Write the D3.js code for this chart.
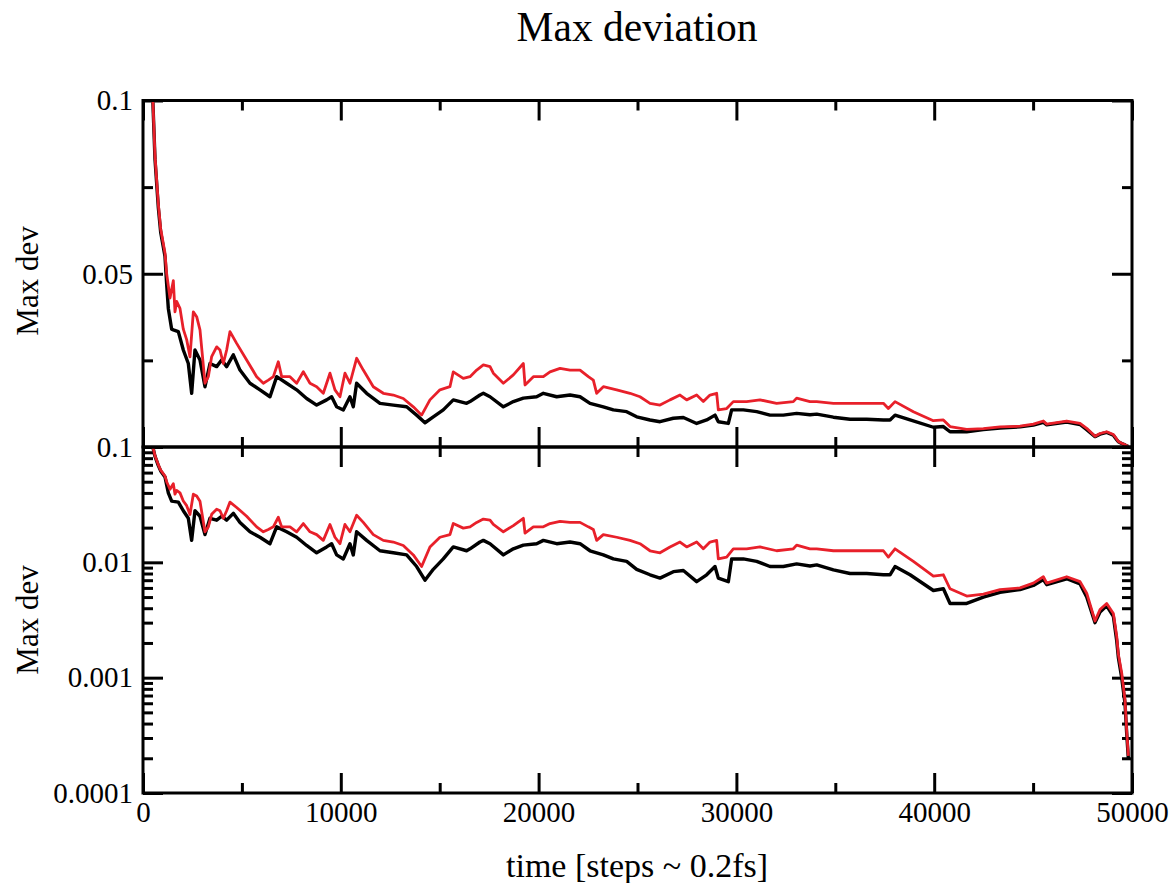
<!doctype html>
<html lang="en">
<head>
<meta charset="utf-8">
<title>Max deviation</title>
<style>
    body {
        margin: 0px;
        background: #fff;
    }

    text {
        font-family: "Liberation Serif", "Times New Roman", serif;
        fill: #000;
    }

    .tick text {
        font-size: 29px;
    }

    .tick line {
        stroke: #000;
        stroke-width: 3;
    }

    .frame {
        fill: none;
        stroke: #000;
        stroke-width: 3;
    }

    .series {
        fill: none;
        stroke-linejoin: round;
    }
</style>
</head>
<body>
<script src="https://d3js.org/d3.v7.min.js"></script>
<script>
    // time step of each sample, and max deviation
    const blackSteps = [500, 607, 776, 893, 1112, 1196, 1280, 1449, 1533, 1786, 2038, 2291, 2460, 2628, 2881, 3134, 3387, 3724, 3976, 4229,
        4566, 4903, 5409, 5914, 6420, 6757, 7262, 7768, 8273, 8779, 9284, 9537, 9789, 10126, 10463, 10631, 10800, 11306, 11980, 12654,
        13328, 13834, 14255, 14676, 15181, 15687, 16361, 16533, 17035, 17207, 17544, 18218, 18723, 19229, 19903, 20240, 20914, 21588, 22094, 22599,
        23273, 23779, 24453, 24958, 25632, 26138, 26812, 27318, 27991, 28497, 28918, 29086, 29592, 29760, 30350, 31024, 31698, 32372, 33046, 33720,
        34060, 34903, 35745, 36588, 37430, 37767, 38020, 38779, 39958, 40464, 40800, 41643, 42486, 43328, 44340, 45013, 45519, 45688, 46699, 47373,
        47710, 48131, 48384, 48721, 49058, 49226, 49310, 49479, 49647, 49731, 49815];
    const blackDev = [0.0995, 0.083, 0.069, 0.062, 0.055, 0.047, 0.040, 0.034, 0.0338, 0.0333, 0.0280, 0.0241, 0.0155, 0.0280, 0.0251, 0.0174, 0.0241, 0.0232, 0.0251, 0.0232,
        0.0266, 0.0222, 0.0184, 0.0165, 0.0145, 0.0203, 0.0184, 0.0165, 0.0140, 0.0121, 0.0136, 0.0145, 0.0116, 0.0107, 0.0145, 0.0116, 0.0184, 0.0155, 0.0126, 0.0121,
        0.0116, 0.0092, 0.0070, 0.0087, 0.0107, 0.0136, 0.0126, 0.0131, 0.0150, 0.0155, 0.0145, 0.0116, 0.0131, 0.0141, 0.0145, 0.0155, 0.0145, 0.0150, 0.0145, 0.0126,
        0.0116, 0.0107, 0.0102, 0.0087, 0.0078, 0.0073, 0.0083, 0.0085, 0.0068, 0.0078, 0.0092, 0.0073, 0.0068, 0.0107, 0.0107, 0.0102, 0.0092, 0.0092, 0.0097, 0.0093,
        0.0095, 0.0086, 0.0080, 0.0080, 0.0078, 0.0078, 0.0092, 0.0078, 0.0057, 0.0059, 0.0044, 0.0044, 0.0050, 0.0055, 0.0058, 0.0063, 0.0071, 0.0064, 0.0072, 0.0065,
        0.0050, 0.0030, 0.0037, 0.0042, 0.0034, 0.0021, 0.0015, 0.0010, 0.0006, 0.00033, 0.0002];

    const redSteps = [500, 607, 776, 893, 1112, 1196, 1365, 1533, 1617, 1701, 1870, 2038, 2207, 2376, 2544, 2713, 2881, 3134, 3302, 3471,
        3724, 3892, 4061, 4229, 4398, 4735, 5240, 5746, 6083, 6336, 6589, 6841, 7010, 7431, 7768, 8105, 8442, 8779, 9115, 9452,
        9705, 9958, 10210, 10463, 10800, 11137, 11643, 12148, 12654, 13159, 13665, 14086, 14507, 15013, 15518, 15687, 16192, 16533, 16870, 17207,
        17544, 17712, 18218, 18723, 19229, 19313, 19735, 20240, 20577, 21083, 21588, 22094, 22515, 22767, 22936, 23273, 23947, 24621, 25126, 25632,
        26138, 26643, 27149, 27486, 27991, 28328, 28665, 29002, 29086, 29507, 29844, 30518, 31192, 32035, 32878, 33046, 33720, 34060, 34903, 35745,
        36588, 37430, 37683, 38020, 38947, 39958, 40464, 40800, 41643, 42486, 43328, 44340, 45013, 45519, 45688, 46699, 47373, 47710, 48131, 48384,
        48721, 49058, 49226, 49310, 49479, 49647, 49731, 49815];
    const redDev = [0.100, 0.084, 0.070, 0.063, 0.056, 0.050, 0.043, 0.048, 0.039, 0.042, 0.040, 0.034, 0.031, 0.026, 0.039, 0.0376, 0.0338, 0.0184, 0.0203, 0.0261,
        0.0289, 0.0280, 0.0241, 0.0280, 0.0333, 0.0299, 0.0251, 0.0203, 0.0184, 0.0193, 0.0203, 0.0246, 0.0203, 0.0203, 0.0184, 0.0217, 0.0184, 0.0174, 0.0155, 0.0213,
        0.0165, 0.0145, 0.0213, 0.0184, 0.0256, 0.0222, 0.0174, 0.0155, 0.0150, 0.0140, 0.0116, 0.0092, 0.0136, 0.0165, 0.0174, 0.0217, 0.0198, 0.0203, 0.0222, 0.0237,
        0.0232, 0.0213, 0.0184, 0.0208, 0.0241, 0.0179, 0.0203, 0.0203, 0.0217, 0.0227, 0.0222, 0.0222, 0.0203, 0.0193, 0.0155, 0.0174, 0.0165, 0.0155, 0.0145, 0.0126,
        0.0121, 0.0136, 0.0150, 0.0136, 0.0150, 0.0131, 0.0150, 0.0155, 0.0107, 0.0111, 0.0131, 0.0131, 0.0136, 0.0126, 0.0131, 0.0141, 0.0131, 0.0131, 0.0126, 0.0126,
        0.0126, 0.0126, 0.0111, 0.0131, 0.0102, 0.0076, 0.0078, 0.0059, 0.0051, 0.0053, 0.0058, 0.0060, 0.0066, 0.0075, 0.0066, 0.0075, 0.0068, 0.0054, 0.0031, 0.0039,
        0.0044, 0.0036, 0.0023, 0.0016, 0.0011, 0.00064, 0.00035, 0.00021];

    const xMajor = [0, 10000, 20000, 30000, 40000, 50000];
    const xMinor = [5000, 15000, 25000, 35000, 45000];
    const linMajor = [0.05, 0.1];
    const linMinor = [0.025, 0.075];
    const logMajor = [0.0001, 0.001, 0.01, 0.1];

    const width = 1174, height = 883;
    const left = 143, right = 1132;
    const topY = 100.5, midY = 447, botY = 793;

    const svg = d3.select('body').append('svg')
        .attr('width', width)
        .attr('height', height);

    const x = d3.scaleLinear().domain([0, 50000]).range([left, right]);
    const yLin = d3.scaleLinear().domain([0, 0.1]).range([midY, topY]);
    const yLog = d3.scaleLog().domain([0.0001, 0.1]).range([botY, midY]);

    const logMinor = yLog.ticks().filter(v => !logMajor.some(m => Math.abs(m - v) / m < 1e-6));

    const black = blackSteps.map((s, i) => ({ s: s, v: blackDev[i] }));
    const red = redSteps.map((s, i) => ({ s: s, v: redDev[i] }));

    const defs = svg.append('defs');
    defs.append('clipPath').attr('id', 'clip-top').append('rect')
        .attr('x', left).attr('y', topY).attr('width', right - left).attr('height', midY - topY);
    defs.append('clipPath').attr('id', 'clip-bot').append('rect')
        .attr('x', left).attr('y', midY).attr('width', right - left).attr('height', botY - midY);

    // small helper: draw an axis with no domain path
    function addAxis(axis, tx, ty) {
        const g = svg.append('g')
            .attr('transform', `translate(${tx},${ty})`)
            .call(axis);
        g.select('.domain').remove();
        return g;
    }

    const fmt = d => String(d);
    const noLabel = () => '';

    // top panel (linear)
    addAxis(d3.axisLeft(yLin).tickValues(linMajor).tickSizeInner(-20).tickSizeOuter(0).tickPadding(10).tickFormat(fmt), left, 0);
    addAxis(d3.axisLeft(yLin).tickValues(linMinor).tickSizeInner(-10).tickSizeOuter(0).tickFormat(noLabel), left, 0);
    addAxis(d3.axisRight(yLin).tickValues(linMajor).tickSizeInner(-20).tickSizeOuter(0).tickFormat(noLabel), right, 0);
    addAxis(d3.axisRight(yLin).tickValues(linMinor).tickSizeInner(-10).tickSizeOuter(0).tickFormat(noLabel), right, 0);
    addAxis(d3.axisTop(x).tickValues(xMajor).tickSizeInner(-20).tickSizeOuter(0).tickFormat(noLabel), 0, topY);
    addAxis(d3.axisTop(x).tickValues(xMinor).tickSizeInner(-10).tickSizeOuter(0).tickFormat(noLabel), 0, topY);
    addAxis(d3.axisBottom(x).tickValues(xMajor).tickSizeInner(-20).tickSizeOuter(0).tickFormat(noLabel), 0, midY);
    addAxis(d3.axisBottom(x).tickValues(xMinor).tickSizeInner(-10).tickSizeOuter(0).tickFormat(noLabel), 0, midY);

    // bottom panel (log)
    addAxis(d3.axisLeft(yLog).tickValues(logMajor).tickSizeInner(-20).tickSizeOuter(0).tickPadding(10).tickFormat(fmt), left, 0);
    addAxis(d3.axisLeft(yLog).tickValues(logMinor).tickSizeInner(-10).tickSizeOuter(0).tickFormat(noLabel), left, 0);
    addAxis(d3.axisRight(yLog).tickValues(logMajor).tickSizeInner(-20).tickSizeOuter(0).tickFormat(noLabel), right, 0);
    addAxis(d3.axisRight(yLog).tickValues(logMinor).tickSizeInner(-10).tickSizeOuter(0).tickFormat(noLabel), right, 0);
    addAxis(d3.axisTop(x).tickValues(xMajor).tickSizeInner(-20).tickSizeOuter(0).tickFormat(noLabel), 0, midY);
    addAxis(d3.axisTop(x).tickValues(xMinor).tickSizeInner(-10).tickSizeOuter(0).tickFormat(noLabel), 0, midY);
    addAxis(d3.axisBottom(x).tickValues(xMajor).tickSizeInner(-20).tickSizeOuter(0).tickPadding(8).tickFormat(fmt), 0, botY);
    addAxis(d3.axisBottom(x).tickValues(xMinor).tickSizeInner(-10).tickSizeOuter(0).tickFormat(noLabel), 0, botY);

    // data lines
    const lineTop = d3.line().x(d => x(d.s)).y(d => yLin(d.v));
    const lineBot = d3.line().x(d => x(d.s)).y(d => yLog(d.v));

    const gTop = svg.append('g').attr('clip-path', 'url(#clip-top)');
    const gBot = svg.append('g').attr('clip-path', 'url(#clip-bot)');

    [[black, '#000000', 3.4], [red, '#e8202a', 2.8]].forEach(([data, col, w]) => {
        gTop.append('path').datum(data).attr('class', 'series')
            .attr('stroke', col).attr('stroke-width', w).attr('d', lineTop);
        gBot.append('path').datum(data).attr('class', 'series')
            .attr('stroke', col).attr('stroke-width', w).attr('d', lineBot);
    });

    // frames
    svg.append('rect').attr('class', 'frame')
        .attr('x', left).attr('y', topY).attr('width', right - left).attr('height', midY - topY);
    svg.append('rect').attr('class', 'frame')
        .attr('x', left).attr('y', midY).attr('width', right - left).attr('height', botY - midY);

    // titles
    svg.append('text').text('Max deviation')
        .attr('x', 637).attr('y', 41)
        .attr('text-anchor', 'middle')
        .style('font-size', '41.5px');

    svg.append('text').text('time [steps ~ 0.2fs]')
        .attr('x', 637).attr('y', 877)
        .attr('text-anchor', 'middle')
        .style('font-size', '34px');

    [281, 620].forEach(cy => {
        svg.append('text').text('Max dev')
            .attr('transform', `translate(38,${cy}) rotate(-90)`)
            .attr('text-anchor', 'middle')
            .style('font-size', '31px');
    });
</script>
</body>
</html>
